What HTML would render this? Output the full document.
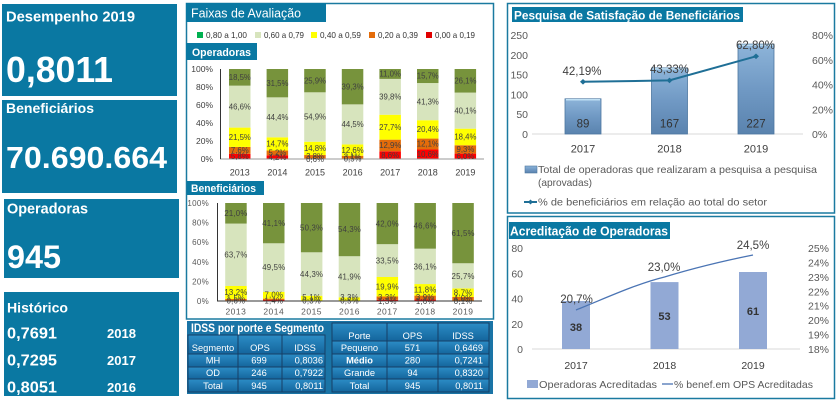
<!DOCTYPE html>
<html><head><meta charset="utf-8"><style>
html,body{margin:0;padding:0;background:#fff;}
body{width:838px;height:401px;overflow:hidden;}
svg{display:block;font-family:"Liberation Sans",sans-serif;}
</style></head><body>
<svg width="838" height="401" viewBox="0 0 838 401" xmlns="http://www.w3.org/2000/svg">
<defs>
<linearGradient id="cell" x1="0" y1="0" x2="0" y2="1"><stop offset="0" stop-color="#2c8dc6"/><stop offset="1" stop-color="#14659c"/></linearGradient>
<linearGradient id="pbar" x1="0" y1="0" x2="0" y2="1"><stop offset="0" stop-color="#8db4d9"/><stop offset="0.5" stop-color="#7099c4"/><stop offset="1" stop-color="#5a83ae"/></linearGradient>
</defs>

<!-- LEFT PANEL -->
<rect x="2" y="4" width="175" height="92" fill="#0a78a2"/>
<rect x="2" y="100" width="175" height="93" fill="#0a78a2"/>
<rect x="4" y="199" width="175" height="79" fill="#0a78a2"/>
<rect x="4" y="292" width="175" height="104" fill="#0a78a2"/>
<g fill="#fff" font-weight="bold">
<text x="6" y="21.5" font-size="14.5" textLength="129" lengthAdjust="spacingAndGlyphs">Desempenho 2019</text>
<text x="6" y="82" font-size="36" textLength="107" lengthAdjust="spacingAndGlyphs">0,8011</text>
<text x="6" y="113" font-size="14" textLength="88" lengthAdjust="spacingAndGlyphs">Beneficiários</text>
<text x="6" y="168" font-size="31" textLength="161" lengthAdjust="spacingAndGlyphs">70.690.664</text>
<text x="7" y="213.5" font-size="14.5" textLength="81" lengthAdjust="spacingAndGlyphs">Operadoras</text>
<text x="7" y="268" font-size="32" textLength="54" lengthAdjust="spacingAndGlyphs">945</text>
<text x="7" y="312.5" font-size="14" textLength="61" lengthAdjust="spacingAndGlyphs">Histórico</text>
<text x="7" y="338.5" font-size="16" textLength="50" lengthAdjust="spacingAndGlyphs">0,7691</text>
<text x="7" y="365.5" font-size="16" textLength="50" lengthAdjust="spacingAndGlyphs">0,7295</text>
<text x="7" y="392.3" font-size="16" textLength="50" lengthAdjust="spacingAndGlyphs">0,8051</text>
<text x="107" y="338" font-size="13" textLength="29" lengthAdjust="spacingAndGlyphs">2018</text>
<text x="107" y="365" font-size="13" textLength="29" lengthAdjust="spacingAndGlyphs">2017</text>
<text x="107" y="392" font-size="13" textLength="29" lengthAdjust="spacingAndGlyphs">2016</text>
</g>

<!-- MIDDLE FRAME -->
<rect x="186.5" y="3.5" width="307" height="315.5" fill="none" stroke="#1a7aa0" stroke-width="1.5"/>
<rect x="186" y="3" width="140" height="19" fill="#0a78a2"/>
<text x="191" y="17.5" font-size="13" fill="#fff" textLength="110" lengthAdjust="spacingAndGlyphs">Faixas de Avaliação</text>

<!-- legend -->
<g font-size="8.5" fill="#333">
<rect x="197" y="32" width="6" height="6" fill="#00b050"/><text x="206" y="38" textLength="41" lengthAdjust="spacingAndGlyphs">0,80 a 1,00</text>
<rect x="255" y="32" width="6" height="6" fill="#d7e4bd"/><text x="264" y="38" textLength="40" lengthAdjust="spacingAndGlyphs">0,60 a 0,79</text>
<rect x="311" y="32" width="6" height="6" fill="#ffff00"/><text x="320" y="38" textLength="41" lengthAdjust="spacingAndGlyphs">0,40 a 0,59</text>
<rect x="369" y="32" width="6" height="6" fill="#e46c0a"/><text x="378" y="38" textLength="40" lengthAdjust="spacingAndGlyphs">0,20 a 0,39</text>
<rect x="426" y="32" width="6" height="6" fill="#e00000"/><text x="435" y="38" textLength="40" lengthAdjust="spacingAndGlyphs">0,00 a 0,19</text>
</g>

<!-- Operadoras chart -->
<rect x="186" y="43" width="71" height="17" fill="#0a78a2"/>
<text x="192" y="56" font-size="11" font-weight="bold" fill="#fff" textLength="59" lengthAdjust="spacingAndGlyphs">Operadoras</text>
<g font-size="8.5" fill="#404040" text-anchor="end">
<text x="213" y="72">100%</text><text x="213" y="90">80%</text><text x="213" y="108">60%</text><text x="213" y="126">40%</text><text x="213" y="144">20%</text><text x="213" y="162">0%</text>
</g>
<g>
<rect x="229" y="153.78" width="21.5" height="5.22" fill="#f00"/>
<rect x="229" y="146.94" width="21.5" height="6.84" fill="#e46c0a"/>
<rect x="229" y="127.59" width="21.5" height="19.35" fill="#ff0"/>
<rect x="229" y="85.65" width="21.5" height="41.94" fill="#d7e4bd"/>
<rect x="229" y="69" width="21.5" height="16.65" fill="#77933c"/>
<rect x="266.6" y="155.22" width="21.5" height="3.78" fill="#f00"/>
<rect x="266.6" y="150.54" width="21.5" height="4.68" fill="#e46c0a"/>
<rect x="266.6" y="137.31" width="21.5" height="13.23" fill="#ff0"/>
<rect x="266.6" y="97.35" width="21.5" height="39.96" fill="#d7e4bd"/>
<rect x="266.6" y="69" width="21.5" height="28.35" fill="#77933c"/>
<rect x="304.2" y="158.46" width="21.5" height="0.54" fill="#f00"/>
<rect x="304.2" y="155.04" width="21.5" height="3.42" fill="#e46c0a"/>
<rect x="304.2" y="141.72" width="21.5" height="13.32" fill="#ff0"/>
<rect x="304.2" y="92.31" width="21.5" height="49.41" fill="#d7e4bd"/>
<rect x="304.2" y="69" width="21.5" height="23.31" fill="#77933c"/>
<rect x="341.8" y="158.55" width="21.5" height="0.45" fill="#f00"/>
<rect x="341.8" y="155.76" width="21.5" height="2.79" fill="#e46c0a"/>
<rect x="341.8" y="144.42" width="21.5" height="11.34" fill="#ff0"/>
<rect x="341.8" y="104.37" width="21.5" height="40.05" fill="#d7e4bd"/>
<rect x="341.8" y="69" width="21.5" height="35.37" fill="#77933c"/>
<rect x="379.4" y="151.26" width="21.5" height="7.74" fill="#f00"/>
<rect x="379.4" y="139.65" width="21.5" height="11.61" fill="#e46c0a"/>
<rect x="379.4" y="114.72" width="21.5" height="24.93" fill="#ff0"/>
<rect x="379.4" y="78.9" width="21.5" height="35.82" fill="#d7e4bd"/>
<rect x="379.4" y="69" width="21.5" height="9.9" fill="#77933c"/>
<rect x="417" y="149.46" width="21.5" height="9.54" fill="#f00"/>
<rect x="417" y="138.57" width="21.5" height="10.89" fill="#e46c0a"/>
<rect x="417" y="120.21" width="21.5" height="18.36" fill="#ff0"/>
<rect x="417" y="83.04" width="21.5" height="37.17" fill="#d7e4bd"/>
<rect x="417" y="69" width="21.5" height="14.04" fill="#77933c"/>
<rect x="454.6" y="153.6" width="21.5" height="5.4" fill="#f00"/>
<rect x="454.6" y="145.23" width="21.5" height="8.37" fill="#e46c0a"/>
<rect x="454.6" y="128.67" width="21.5" height="16.56" fill="#ff0"/>
<rect x="454.6" y="92.58" width="21.5" height="36.09" fill="#d7e4bd"/>
<rect x="454.6" y="69" width="21.5" height="23.58" fill="#77933c"/>
</g>
<line x1="220" y1="159" x2="484" y2="159" stroke="#999" stroke-width="1"/>
<line x1="220.5" y1="69" x2="220.5" y2="159" stroke="#333" stroke-width="1"/>
<g font-size="7.8" fill="#404040" text-anchor="middle">
<text x="239.8" y="80">18,5%</text><text x="239.8" y="109.3">46,6%</text><text x="239.8" y="140">21,5%</text><text x="239.8" y="153">7,6%</text><text x="239.8" y="159">5,8%</text>
<text x="277.4" y="86">31,5%</text><text x="277.4" y="120">44,4%</text><text x="277.4" y="146.6">14,7%</text><text x="277.4" y="155.6">5,2%</text><text x="277.4" y="159.8">4,2%</text>
<text x="315" y="83.4">25,9%</text><text x="315" y="119.7">54,9%</text><text x="315" y="151">14,8%</text><text x="315" y="159">3,8%</text><text x="315" y="162">0,6%</text>
<text x="352.6" y="89.4">39,3%</text><text x="352.6" y="127">44,5%</text><text x="352.6" y="152.8">12,6%</text><text x="352.6" y="159.5">3,1%</text><text x="352.6" y="161.5">0,5%</text>
<text x="390.2" y="76.7">11,0%</text><text x="390.2" y="99.5">39,8%</text><text x="390.2" y="130">27,7%</text><text x="390.2" y="148.2">12,9%</text><text x="390.2" y="157.8">8,6%</text>
<text x="427.8" y="78.7">15,7%</text><text x="427.8" y="104.3">41,3%</text><text x="427.8" y="132">20,4%</text><text x="427.8" y="146.7">12,1%</text><text x="427.8" y="157">10,6%</text>
<text x="465.4" y="83.5">26,1%</text><text x="465.4" y="113.3">40,1%</text><text x="465.4" y="139.7">18,4%</text><text x="465.4" y="152">9,3%</text><text x="465.4" y="159">6,0%</text>
</g>
<g font-size="9" fill="#404040" text-anchor="middle">
<text x="239.8" y="175.5">2013</text><text x="277.4" y="175.5">2014</text><text x="315" y="175.5">2015</text><text x="352.6" y="175.5">2016</text><text x="390.2" y="175.5">2017</text><text x="427.8" y="175.5">2018</text><text x="465.4" y="175.5">2019</text>
</g>

<!-- Beneficiarios chart -->
<rect x="187" y="181" width="77" height="14" fill="#0a78a2"/>
<text x="191" y="192" font-size="11" font-weight="bold" fill="#fff" textLength="65" lengthAdjust="spacingAndGlyphs">Beneficiários</text>
<g font-size="8" fill="#595959" text-anchor="end" letter-spacing="0.3">
<text x="209" y="206">100%</text><text x="209" y="225.6">80%</text><text x="209" y="245.2">60%</text><text x="209" y="264.8">40%</text><text x="209" y="284.4">20%</text><text x="209" y="304">0%</text>
</g>
<g>
<rect x="225.2" y="300.41" width="21.5" height="0.59" fill="#f00"/>
<rect x="225.2" y="298.94" width="21.5" height="1.47" fill="#e46c0a"/>
<rect x="225.2" y="286" width="21.5" height="12.94" fill="#ff0"/>
<rect x="225.2" y="223.57" width="21.5" height="62.43" fill="#d7e4bd"/>
<rect x="225.2" y="203" width="21.5" height="20.57" fill="#77933c"/>
<rect x="263" y="300.02" width="21.5" height="0.98" fill="#f00"/>
<rect x="263" y="298.65" width="21.5" height="1.37" fill="#e46c0a"/>
<rect x="263" y="291.79" width="21.5" height="6.86" fill="#ff0"/>
<rect x="263" y="243.28" width="21.5" height="48.51" fill="#d7e4bd"/>
<rect x="263" y="203" width="21.5" height="40.28" fill="#77933c"/>
<rect x="300.9" y="300.71" width="21.5" height="0.29" fill="#e46c0a"/>
<rect x="300.9" y="295.71" width="21.5" height="5" fill="#ff0"/>
<rect x="300.9" y="252.3" width="21.5" height="43.41" fill="#d7e4bd"/>
<rect x="300.9" y="203" width="21.5" height="49.3" fill="#77933c"/>
<rect x="338.7" y="300.51" width="21.5" height="0.49" fill="#e46c0a"/>
<rect x="338.7" y="297.28" width="21.5" height="3.23" fill="#ff0"/>
<rect x="338.7" y="256.22" width="21.5" height="41.06" fill="#d7e4bd"/>
<rect x="338.7" y="203" width="21.5" height="53.22" fill="#77933c"/>
<rect x="376.6" y="299.73" width="21.5" height="1.27" fill="#f00"/>
<rect x="376.6" y="296.5" width="21.5" height="3.23" fill="#e46c0a"/>
<rect x="376.6" y="277" width="21.5" height="19.5" fill="#ff0"/>
<rect x="376.6" y="244.17" width="21.5" height="32.83" fill="#d7e4bd"/>
<rect x="376.6" y="203" width="21.5" height="41.17" fill="#77933c"/>
<rect x="414.4" y="299.43" width="21.5" height="1.57" fill="#f00"/>
<rect x="414.4" y="295.61" width="21.5" height="3.82" fill="#e46c0a"/>
<rect x="414.4" y="284.05" width="21.5" height="11.56" fill="#ff0"/>
<rect x="414.4" y="248.67" width="21.5" height="35.38" fill="#d7e4bd"/>
<rect x="414.4" y="203" width="21.5" height="45.67" fill="#77933c"/>
<rect x="452.3" y="300.9" width="21.5" height="0.1" fill="#f00"/>
<rect x="452.3" y="296.98" width="21.5" height="3.92" fill="#e46c0a"/>
<rect x="452.3" y="288.45" width="21.5" height="8.53" fill="#ff0"/>
<rect x="452.3" y="263.26" width="21.5" height="25.19" fill="#d7e4bd"/>
<rect x="452.3" y="203" width="21.5" height="60.26" fill="#77933c"/>
</g>
<line x1="217" y1="301" x2="482" y2="301" stroke="#333" stroke-width="1"/>
<line x1="217.5" y1="203" x2="217.5" y2="301" stroke="#333" stroke-width="1"/>
<g font-size="7.8" fill="#404040" text-anchor="middle" letter-spacing="0.2">
<text x="235.9" y="216">21,0%</text><text x="235.9" y="257.5">63,7%</text><text x="235.9" y="295">13,2%</text><text x="235.9" y="301">1,5%</text><text x="235.9" y="303.5">0,6%</text>
<text x="273.8" y="226">41,1%</text><text x="273.8" y="270">49,5%</text><text x="273.8" y="297.5">7,0%</text><text x="273.8" y="303.5">1,4%</text>
<text x="311.6" y="230.5">50,3%</text><text x="311.6" y="277">44,3%</text><text x="311.6" y="300">5,1%</text><text x="311.6" y="303.5">0,3%</text>
<text x="349.5" y="232">54,3%</text><text x="349.5" y="279.5">41,9%</text><text x="349.5" y="300">3,3%</text><text x="349.5" y="303.5">0,5%</text>
<text x="387.3" y="226.5">42,0%</text><text x="387.3" y="263.5">33,5%</text><text x="387.3" y="289.5">19,9%</text><text x="387.3" y="300">3,3%</text><text x="387.3" y="304">1,3%</text>
<text x="425.2" y="228.7">46,6%</text><text x="425.2" y="269.3">36,1%</text><text x="425.2" y="292.5">11,8%</text><text x="425.2" y="300">3,9%</text><text x="425.2" y="304">1,6%</text>
<text x="463.1" y="236">61,5%</text><text x="463.1" y="278.8">25,7%</text><text x="463.1" y="295.5">8,7%</text><text x="463.1" y="301">4,0%</text><text x="463.1" y="304">0,1%</text>
</g>
<g font-size="8.5" fill="#595959" text-anchor="middle" letter-spacing="0.5">
<text x="235.9" y="314.5">2013</text><text x="273.8" y="314.5">2014</text><text x="311.6" y="314.5">2015</text><text x="349.5" y="314.5">2016</text><text x="387.3" y="314.5">2017</text><text x="425.2" y="314.5">2018</text><text x="463.1" y="314.5">2019</text>
</g>

<!-- IDSS tables -->
<rect x="187" y="321" width="306" height="73" fill="#1a74a6"/>
<text x="191" y="332" font-size="12" font-weight="bold" fill="#fff" textLength="133" lengthAdjust="spacingAndGlyphs">IDSS por porte e Segmento</text>
<g fill="url(#cell)" stroke="#163f66" stroke-width="1">
<rect x="188" y="335" width="50" height="19"/><rect x="238" y="335" width="44" height="19"/><rect x="282" y="335" width="43" height="19"/>
<rect x="188" y="354" width="50" height="13"/><rect x="238" y="354" width="44" height="13"/><rect x="282" y="354" width="43" height="13"/>
<rect x="188" y="367" width="50" height="12"/><rect x="238" y="367" width="44" height="12"/><rect x="282" y="367" width="43" height="12"/>
<rect x="188" y="379" width="50" height="13"/><rect x="238" y="379" width="44" height="13"/><rect x="282" y="379" width="43" height="13"/>
<rect x="332" y="323" width="55" height="18"/><rect x="387" y="323" width="51" height="18"/><rect x="438" y="323" width="51" height="18"/>
<rect x="332" y="341" width="55" height="13"/><rect x="387" y="341" width="51" height="13"/><rect x="438" y="341" width="51" height="13"/>
<rect x="332" y="354" width="55" height="13"/><rect x="387" y="354" width="51" height="13"/><rect x="438" y="354" width="51" height="13"/>
<rect x="332" y="367" width="55" height="12"/><rect x="387" y="367" width="51" height="12"/><rect x="438" y="367" width="51" height="12"/>
<rect x="332" y="379" width="55" height="13"/><rect x="387" y="379" width="51" height="13"/><rect x="438" y="379" width="51" height="13"/>
</g>
<g font-size="9.3" fill="#fff" text-anchor="middle">
<text x="213" y="351">Segmento</text><text x="260" y="351">OPS</text><text x="305" y="351">IDSS</text>
<text x="213" y="363.5">MH</text><text x="259" y="363.5">699</text>
<text x="213" y="376">OD</text><text x="259" y="376">246</text>
<text x="213" y="389">Total</text><text x="259" y="389">945</text>
<text x="359.5" y="339">Porte</text><text x="412.5" y="339">OPS</text><text x="463" y="339">IDSS</text>
<text x="359.5" y="351">Pequeno</text><text x="412.5" y="351">571</text>
<text x="359.5" y="363.5" font-weight="bold">Médio</text><text x="412.5" y="363.5">280</text>
<text x="359.5" y="376">Grande</text><text x="412.5" y="376">94</text>
<text x="359.5" y="389">Total</text><text x="412.5" y="389">945</text>
</g>
<g font-size="9.3" fill="#fff" text-anchor="end">
<text x="323" y="363.5">0,8036</text><text x="323" y="376">0,7922</text><text x="323" y="389">0,8011</text>
<text x="483" y="351">0,6469</text><text x="483" y="363.5">0,7241</text><text x="483" y="376">0,8320</text><text x="483" y="389">0,8011</text>
</g>

<!-- PESQUISA -->
<rect x="507.5" y="3.5" width="327" height="209.5" fill="none" stroke="#1a7aa0" stroke-width="1.5"/>
<rect x="512" y="7" width="231" height="15" fill="#0a78a2"/>
<text x="514" y="19.5" font-size="12" font-weight="bold" fill="#fff" textLength="226" lengthAdjust="spacingAndGlyphs">Pesquisa de Satisfação de Beneficiários</text>
<g font-size="10.5" fill="#595959" text-anchor="end">
<text x="528" y="39">250</text><text x="528" y="58.8">200</text><text x="528" y="78.6">150</text><text x="528" y="98.4">100</text><text x="528" y="118.2">50</text><text x="528" y="138">0</text>
</g>
<g font-size="10.5" fill="#595959">
<text x="812" y="39">80%</text><text x="812" y="63.8">60%</text><text x="812" y="88.5">40%</text><text x="812" y="113.3">20%</text><text x="812" y="138">0%</text>
</g>
<line x1="532" y1="134" x2="803" y2="134" stroke="#d9d9d9" stroke-width="1"/>
<g fill="url(#pbar)" stroke="#4d77a0" stroke-width="0.8">
<rect x="565" y="98.8" width="36" height="35.2"/>
<rect x="651.5" y="67.9" width="36" height="66.1"/>
<rect x="738" y="44.1" width="36" height="89.9"/>
</g>
<g stroke="#bfe0f4" stroke-width="1.5">
<line x1="566" y1="99.8" x2="600" y2="99.8"/><line x1="652.5" y1="68.9" x2="686.5" y2="68.9"/><line x1="739" y1="45.1" x2="773" y2="45.1"/>
</g>
<g font-size="11.5" fill="#333" text-anchor="middle">
<text x="583" y="127.5">89</text><text x="669.5" y="127.5">167</text><text x="756" y="127.5">227</text>
</g>
<polyline points="583,81.8 669.5,80.4 756,56.3" fill="none" stroke="#1f6f96" stroke-width="2"/>
<g fill="#1f6f96">
<path d="M583,79 L586,81.8 L583,84.6 L580,81.8Z"/><path d="M669.5,77.6 L672.5,80.4 L669.5,83.2 L666.5,80.4Z"/><path d="M756,53.5 L759,56.3 L756,59.1 L753,56.3Z"/>
</g>
<g font-size="11.5" fill="#404040" text-anchor="middle">
<text x="582" y="75">42,19%</text><text x="669.5" y="73">43,33%</text><text x="755.5" y="49">62,80%</text>
</g>
<g font-size="11" fill="#404040" text-anchor="middle">
<text x="583" y="152.5">2017</text><text x="669.5" y="152.5">2018</text><text x="756" y="152.5">2019</text>
</g>
<rect x="525" y="166" width="12" height="7" fill="url(#pbar)" stroke="#4d77a0" stroke-width="0.6"/>
<g font-size="10.5" fill="#595959">
<text x="538" y="173" textLength="279" lengthAdjust="spacingAndGlyphs">Total de operadoras que realizaram a pesquisa a pesquisa</text>
<text x="538" y="186" textLength="54" lengthAdjust="spacingAndGlyphs">(aprovadas)</text>
<text x="538" y="205.5" textLength="229" lengthAdjust="spacingAndGlyphs">% de beneficiários em relação ao total do setor</text>
</g>
<line x1="524" y1="202" x2="537" y2="202" stroke="#1f6f96" stroke-width="2"/>
<path d="M530.5,199.5 L533,202 L530.5,204.5 L528,202Z" fill="#1f6f96"/>

<!-- ACREDITACAO -->
<rect x="507.5" y="216.5" width="327" height="182" fill="none" stroke="#1a7aa0" stroke-width="1.5"/>
<rect x="509" y="222" width="161" height="17" fill="#0a78a2"/>
<text x="510" y="235.5" font-size="12.5" font-weight="bold" fill="#fff" textLength="158" lengthAdjust="spacingAndGlyphs">Acreditação de Operadoras</text>
<g font-size="10.5" fill="#595959" text-anchor="end">
<text x="523" y="252">80</text><text x="523" y="277.3">60</text><text x="523" y="302.5">40</text><text x="523" y="327.8">20</text><text x="523" y="353">0</text>
</g>
<g font-size="10.5" fill="#595959">
<text x="808" y="252">25%</text><text x="808" y="266.4">24%</text><text x="808" y="280.9">23%</text><text x="808" y="295.3">22%</text><text x="808" y="309.7">21%</text><text x="808" y="324.1">20%</text><text x="808" y="338.6">19%</text><text x="808" y="353">18%</text>
</g>
<line x1="532" y1="349" x2="800" y2="349" stroke="#d9d9d9" stroke-width="1"/>
<g fill="#92a9d5">
<rect x="562" y="301" width="28" height="48"/>
<rect x="650.5" y="282.1" width="28" height="66.9"/>
<rect x="739" y="272" width="28" height="77"/>
</g>
<g font-size="11" font-weight="bold" fill="#333" text-anchor="middle">
<text x="576" y="331">38</text><text x="664.5" y="320">53</text><text x="753" y="315">61</text>
</g>
<path d="M576,310 C606,298 636,284 664.5,277 C694,268 723,261 753,255" fill="none" stroke="#4a74b4" stroke-width="1.3"/>
<g font-size="11.5" fill="#404040" text-anchor="middle">
<text x="576.5" y="303">20,7%</text><text x="664" y="271">23,0%</text><text x="753" y="249">24,5%</text>
</g>
<g font-size="10.5" fill="#404040" text-anchor="middle">
<text x="576" y="369">2017</text><text x="664.5" y="369">2018</text><text x="753" y="369">2019</text>
</g>
<rect x="527" y="380" width="11" height="8" fill="#92a9d5"/>
<g font-size="10.5" fill="#595959">
<text x="539" y="388" textLength="118" lengthAdjust="spacingAndGlyphs">Operadoras Acreditadas</text>
<text x="674" y="388" textLength="139" lengthAdjust="spacingAndGlyphs">% benef.em OPS Acreditadas</text>
</g>
<line x1="662" y1="384" x2="673" y2="384" stroke="#4a74b4" stroke-width="1.3"/>
</svg>
</body></html>
